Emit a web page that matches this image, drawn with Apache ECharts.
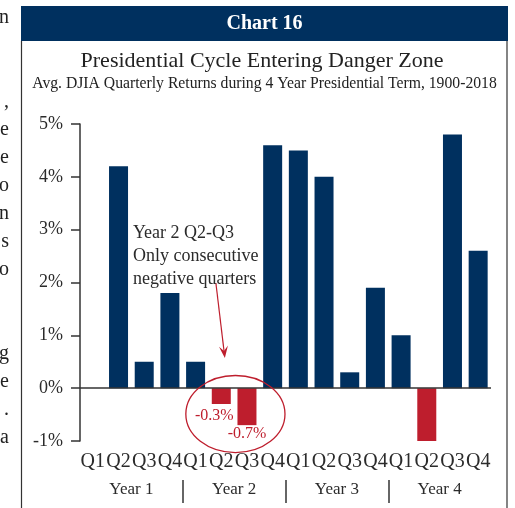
<!DOCTYPE html>
<html><head><meta charset="utf-8">
<script src="https://cdn.jsdelivr.net/npm/echarts@6/dist/echarts.min.js"></script>
<style>html,body{margin:0;padding:0;background:#fff}#c{width:515px;height:508px}</style>
</head><body><div id="c"></div>
<script>
// ---- data ----
const quarters = ['Q1','Q2','Q3','Q4','Q1','Q2','Q3','Q4','Q1','Q2','Q3','Q4','Q1','Q2','Q3','Q4'];
const years = ['Year 1','Year 2','Year 3','Year 4'];
const returns = [null, 4.2, 0.5, 1.8, 0.5, -0.3, -0.7, 4.6, 4.5, 4.0, 0.3, 1.9, 1.0, -1.0, 4.8, 2.6];
const labelledBars = [5, 6];
const yMin = -1, yMax = 5, yStep = 1;
const headerText = 'Chart 16';
const titleText = 'Presidential Cycle Entering Danger Zone';
const subtitleText = 'Avg. DJIA Quarterly Returns during 4 Year Presidential Term, 1900-2018';
const noteLines = ['Year 2 Q2-Q3', 'Only consecutive', 'negative quarters'];
const sideLetters = [['n',0],[',',3],['e',4],['e',5],['o',6],['n',7],['s',8],['o',9],['g',12],['e',13],['.',14],['a',15]];

// ---- style ----
const NAVY = '#00305f', RED = '#be1e2d', INK = '#2b2b2b', FONT = '"Liberation Serif", serif';

const chart = echarts.init(document.getElementById('c'), null, {renderer: 'canvas'});

const barData = returns.map((v, i) => {
  const item = {value: v, itemStyle: {color: v < 0 ? RED : NAVY}};
  if (labelledBars.includes(i)) {
    item.label = {show: true, position: 'bottom', distance: i === 5 ? 4 : 1,
      offset: [i === 5 ? -7 : 0, 0], formatter: p => p.value.toFixed(1) + '%',
      color: RED, fontFamily: FONT, fontSize: 16};
  }
  return item;
});

const option = {
  animation: false,
  grid: [
    {left: 80, right: 24, top: 124, bottom: 67},
    {left: 80, right: 24, top: 480, height: 23}
  ],
  xAxis: [
    {type: 'category', gridIndex: 0, data: quarters,
     axisLine: {show: false, onZero: false}, axisTick: {show: false},
     axisLabel: {interval: 0, margin: 11, color: INK, fontFamily: FONT, fontSize: 20}},
    {type: 'category', gridIndex: 1, data: years, position: 'top',
     axisLine: {show: false}, axisTick: {show: false},
     axisLabel: {inside: true, margin: 1, color: INK, fontFamily: FONT, fontSize: 17}},
    ].concat([]),
  yAxis: [
    {type: 'value', gridIndex: 0, min: yMin, max: yMax, interval: yStep,
     axisLine: {show: true, lineStyle: {color: '#333', width: 1.5}},
     axisTick: {show: true, inside: false, length: 9, lineStyle: {color: '#333', width: 1.5}},
     splitLine: {show: false},
     axisLabel: {margin: 17, formatter: v => v + '%', color: INK, fontFamily: FONT, fontSize: 18}},
    {type: 'value', gridIndex: 1, show: false, min: 0, max: 1}
  ],
  series: [{
    type: 'bar', xAxisIndex: 0, yAxisIndex: 0, data: barData, barWidth: 19,
    markLine: {silent: true, symbol: 'none', label: {show: false},
      lineStyle: {color: '#333', width: 1.5, type: 'solid'}, data: [{yAxis: 0}]}
  }]
};
option.xAxis[1].splitLine = {show: true, interval: 0, showMinLine: false, showMaxLine: false,
  lineStyle: {color: '#333', width: 1.5}};
chart.setOption(option);

// annotations positioned through the chart's own scales (fractional category positions interpolated)
const P = (x, y) => {
  const i0 = Math.floor(x), f = x - i0;
  const p0 = chart.convertToPixel({gridIndex: 0}, [i0, y]);
  const p1 = chart.convertToPixel({gridIndex: 0}, [i0 + 1, y]);
  return [p0[0] + f * (p1[0] - p0[0]), p0[1]];
};
const c = P(5.55, -0.49), e = P(5.55 + 1.93, -0.49 - 0.73);
const rx = e[0] - c[0], ry = e[1] - c[1];
const a0 = P(4.79, 1.99), a1 = P(5.14, 0.57);
const ang = Math.atan2(a1[1] - a0[1], a1[0] - a0[0]);
const hl = 12, hw = 4.5;
const back = [a1[0] - hl * Math.cos(ang), a1[1] - hl * Math.sin(ang)];
const head = [a1,
  [back[0] + hw * Math.sin(ang), back[1] - hw * Math.cos(ang)],
  [a1[0] - 0.6 * hl * Math.cos(ang), a1[1] - 0.6 * hl * Math.sin(ang)],
  [back[0] - hw * Math.sin(ang), back[1] + hw * Math.cos(ang)]];
const nt = P(1.56, 2.93);

const graphics = [
  {type: 'rect', shape: {x: 21, y: 6, width: 487, height: 35}, style: {fill: NAVY}, z: 10},
  {type: 'text', x: 264.5, y: 24, z: 11, style: {text: headerText, fill: '#fff', font: 'bold 20px ' + FONT, textAlign: 'center', textVerticalAlign: 'middle'}},
  {type: 'line', shape: {x1: 21.5, y1: 41, x2: 21.5, y2: 508}, style: {stroke: '#333', lineWidth: 1.2}, z: 10},
  {type: 'line', shape: {x1: 507, y1: 41, x2: 507, y2: 508}, style: {stroke: '#333', lineWidth: 1.2}, z: 10},
  {type: 'text', x: 262, y: 61, z: 11, style: {text: titleText, fill: '#222', font: '22px ' + FONT, textAlign: 'center', textVerticalAlign: 'middle'}},
  {type: 'text', x: 264.5, y: 84, z: 11, style: {text: subtitleText, fill: '#222', font: '15.7px ' + FONT, textAlign: 'center', textVerticalAlign: 'middle'}},
  {type: 'ellipse', shape: {cx: c[0], cy: c[1], rx: rx, ry: ry}, style: {fill: 'none', stroke: RED, lineWidth: 1.3}, z: 20},
  {type: 'line', shape: {x1: a0[0], y1: a0[1], x2: (back[0]+a1[0])/2, y2: (back[1]+a1[1])/2}, style: {stroke: RED, lineWidth: 1.2}, z: 20},
  {type: 'polygon', shape: {points: head}, style: {fill: RED}, z: 20}
];
noteLines.forEach((t, i) => graphics.push({type: 'text', x: nt[0], y: nt[1] + i * 23, z: 20,
  style: {text: t, fill: INK, font: '18px ' + FONT, textAlign: 'left', textVerticalAlign: 'middle'}}));
sideLetters.forEach(([t, row]) => graphics.push({type: 'text', x: 9, y: 18 + row * 28, z: 5,
  style: {text: t, fill: '#222', font: '20px ' + FONT, textAlign: 'right', textVerticalAlign: 'middle'}}));
chart.setOption({graphic: graphics});
</script></body></html>
